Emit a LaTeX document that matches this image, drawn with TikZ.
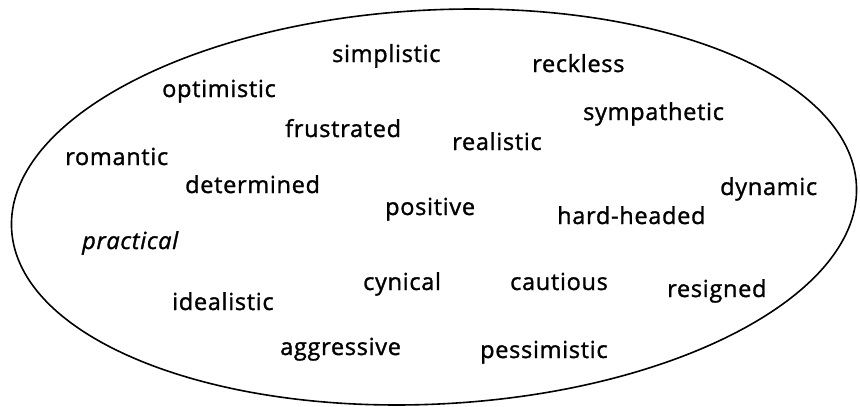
\documentclass[tikz,border=0pt]{standalone}
\usepackage{fontspec}
\setmainfont{Open Sans}[LetterSpace=3,FakeBold=1.3]
\begin{document}
\begin{tikzpicture}[x=1pt,y=-1pt,
  word/.style={anchor=base west,inner sep=0pt,font=\fontsize{23.5}{23.5}\selectfont}]
\useasboundingbox (0,0) rectangle (860,407);
\draw[line width=1.6pt,rotate around={3:(434,207)}] (434,207) ellipse [x radius=423, y radius=197];
\node[word] (simplistic) at (332,62) {simplistic};
\node[word] (reckless) at (532,72) {reckless};
\node[word] (optimistic) at (162,97) {optimistic};
\node[word] (sympathetic) at (583,120) {sympathetic};
\node[word] (frustrated) at (285,137) {frustrated};
\node[word] (realistic) at (452,150) {realistic};
\node[word] (romantic) at (65,165) {romantic};
\node[word] (determined) at (185,193) {determined};
\node[word] (dynamic) at (720,195) {dynamic};
\node[word] (positive) at (385,215) {positive};
\node[word] (hardheaded) at (557,224) {hard-headed};
\node[word] (practical) at (82,249) {\itshape practical};
\node[word] (cynical) at (363,290) {cynical};
\node[word] (cautious) at (510,290) {cautious};
\node[word] (resigned) at (667,297) {resigned};
\node[word] (idealistic) at (172,310) {idealistic};
\node[word] (aggressive) at (280,355) {aggressive};
\node[word] (pessimistic) at (480,358) {pessimistic};
\end{tikzpicture}
\end{document}
